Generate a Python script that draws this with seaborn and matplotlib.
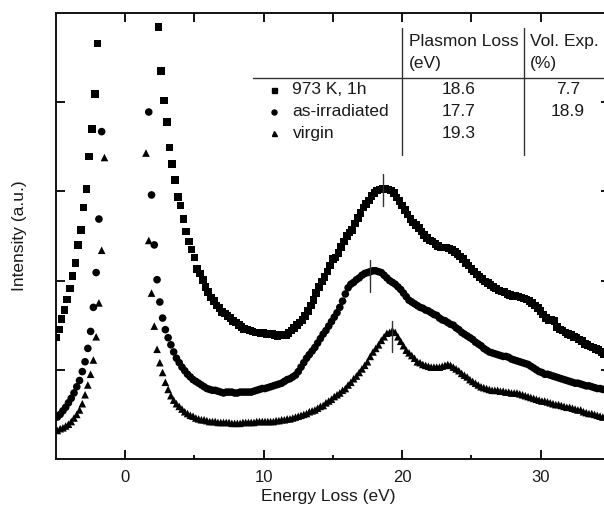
import numpy as np
import pandas as pd
import matplotlib
matplotlib.use("Agg")
import matplotlib.pyplot as plt
from matplotlib.lines import Line2D
import seaborn as sns

nan = np.nan

# ---------------- data ----------------
# energy grid of each spectrum: first channel and channel width (eV)
start_973K, start_irr, start_virgin = -5.0, -4.9, -4.9
channel_width = 0.2

# 973 K, 1h  (squares)   -- one row = 1 eV (5 channels), first value at -5.0 eV
int_973K = [
    1.36, 1.45, 1.57, 1.67, 1.79,
    1.91, 2.05, 2.20, 2.40, 2.57,
    2.82, 3.03, 3.39, 3.70, 4.09,
    4.66, nan, nan, nan, nan,
    nan, nan, nan, nan, nan,
    nan, nan, nan, nan, nan,
    nan, nan, nan, nan, nan,
    nan, nan, 4.84, 4.35, 4.02,
    3.78, 3.49, 3.31, 3.13, 2.94,
    2.84, 2.69, 2.55, 2.44, 2.35,
    2.26, 2.13, 2.08, 2.01, 1.93,
    1.87, 1.81, 1.77, 1.72, 1.69,
    1.65, 1.63, 1.60, 1.58, 1.55,
    1.53, 1.50, 1.48, 1.46, 1.45,
    1.44, 1.43, 1.42, 1.42, 1.41,
    1.41, 1.40, 1.40, 1.40, 1.39,
    1.38, 1.39, 1.39, 1.39, 1.41,
    1.44, 1.47, 1.50, 1.53, 1.56,
    1.60, 1.66, 1.72, 1.78, 1.86,
    1.93, 1.99, 2.04, 2.10, 2.17,
    2.24, 2.26, 2.31, 2.38, 2.44,
    2.50, 2.54, 2.57, 2.64, 2.70,
    2.76, 2.82, 2.86, 2.90, 2.95,
    2.98, 3.01, 3.02, 3.03, 3.03,
    3.02, 3.01, 2.98, 2.93, 2.89,
    2.84, 2.79, 2.74, 2.69, 2.65,
    2.62, 2.59, 2.55, 2.51, 2.48,
    2.45, 2.44, 2.41, 2.39, 2.37,
    2.37, 2.37, 2.36, 2.34, 2.32,
    2.30, 2.27, 2.24, 2.20, 2.17,
    2.13, 2.10, 2.07, 2.04, 2.02,
    1.99, 1.97, 1.95, 1.93, 1.91,
    1.89, 1.88, 1.87, 1.85, 1.84,
    1.83, 1.83, 1.82, 1.81, 1.80,
    1.79, 1.77, 1.75, 1.72, 1.69,
    1.66, 1.62, 1.58, 1.56, 1.56,
    1.55, 1.48, 1.45, 1.44, 1.42,
    1.40, 1.39, 1.37, 1.36, 1.34,
    1.32, 1.29, 1.28, 1.26, 1.25,
    1.23, 1.22, 1.20, 1.18,
]

# as-irradiated (circles)  -- first value at -4.9 eV
int_irr = [
    0.47, 0.50, 0.54, 0.58, 0.63,
    0.68, 0.74, 0.81, 0.88, 0.98,
    1.09, 1.24, 1.43, 1.70, 2.09,
    2.69, 3.67, nan, nan, nan,
    nan, nan, nan, nan, nan,
    nan, nan, nan, nan, nan,
    nan, nan, nan, 3.89, 2.96,
    2.40, 2.01, 1.76, 1.58, 1.45,
    1.36, 1.28, 1.20, 1.13, 1.08,
    1.03, 0.99, 0.95, 0.92, 0.89,
    0.87, 0.85, 0.83, 0.81, 0.79,
    0.78, 0.77, 0.77, 0.76, 0.75,
    0.74, 0.75, 0.75, 0.75, 0.74,
    0.74, 0.75, 0.75, 0.75, 0.75,
    0.75, 0.76, 0.77, 0.78, 0.79,
    0.79, 0.80, 0.81, 0.82, 0.83,
    0.84, 0.85, 0.87, 0.89, 0.90,
    0.92, 0.94, 0.98, 1.03, 1.08,
    1.13, 1.17, 1.21, 1.25, 1.30,
    1.35, 1.40, 1.44, 1.49, 1.54,
    1.59, 1.64, 1.70, 1.77, 1.85,
    1.92, 1.96, 1.98, 2.01, 2.03,
    2.06, 2.08, 2.09, 2.10, 2.11,
    2.11, 2.10, 2.09, 2.06, 2.03,
    2.00, 1.98, 1.96, 1.93, 1.90,
    1.86, 1.82, 1.78, 1.76, 1.74,
    1.72, 1.70, 1.69, 1.67, 1.66,
    1.64, 1.62, 1.61, 1.58, 1.56,
    1.55, 1.53, 1.51, 1.50, 1.47,
    1.45, 1.42, 1.40, 1.38, 1.36,
    1.34, 1.31, 1.29, 1.27, 1.24,
    1.22, 1.20, 1.19, 1.18, 1.17,
    1.16, 1.15, 1.15, 1.14, 1.12,
    1.11, 1.10, 1.09, 1.08, 1.07,
    1.06, 1.04, 1.02, 1.00, 0.98,
    0.97, 0.95, 0.95, 0.94, 0.93,
    0.92, 0.91, 0.90, 0.89, 0.88,
    0.87, 0.86, 0.85, 0.85, 0.84,
    0.83, 0.82, 0.82, 0.81, 0.80,
    0.79, 0.79, 0.78,
]

# virgin (triangles)  -- first value at -4.9 eV
int_virgin = [
    0.32, 0.34, 0.35, 0.37, 0.39,
    0.42, 0.46, 0.50, 0.55, 0.62,
    0.72, 0.83, 0.95, 1.11, 1.37,
    1.75, 2.34, 3.38, nan, nan,
    nan, nan, nan, nan, nan,
    nan, nan, nan, nan, nan,
    nan, nan, 3.43, 2.45, 1.86,
    1.49, 1.23, 1.08, 0.97, 0.86,
    0.78, 0.71, 0.66, 0.62, 0.59,
    0.56, 0.53, 0.51, 0.49, 0.48,
    0.46, 0.45, 0.44, 0.44, 0.43,
    0.42, 0.42, 0.42, 0.41, 0.41,
    0.41, 0.41, 0.41, 0.40, 0.40,
    0.40, 0.40, 0.41, 0.41, 0.41,
    0.41, 0.41, 0.42, 0.42, 0.42,
    0.42, 0.42, 0.42, 0.42, 0.43,
    0.43, 0.44, 0.44, 0.45, 0.45,
    0.46, 0.47, 0.48, 0.49, 0.50,
    0.51, 0.53, 0.54, 0.55, 0.57,
    0.59, 0.60, 0.63, 0.65, 0.67,
    0.70, 0.72, 0.74, 0.77, 0.79,
    0.83, 0.86, 0.90, 0.93, 0.97,
    1.01, 1.05, 1.09, 1.15, 1.20,
    1.24, 1.28, 1.33, 1.37, 1.41,
    1.42, 1.44, 1.42, 1.37, 1.32,
    1.27, 1.22, 1.19, 1.16, 1.13,
    1.09, 1.08, 1.06, 1.05, 1.04,
    1.03, 1.03, 1.03, 1.03, 1.04,
    1.05, 1.06, 1.05, 1.03, 1.01,
    0.99, 0.96, 0.94, 0.92, 0.89,
    0.87, 0.85, 0.83, 0.81, 0.80,
    0.79, 0.78, 0.77, 0.77, 0.77,
    0.76, 0.76, 0.75, 0.75, 0.74,
    0.74, 0.74, 0.73, 0.72, 0.71,
    0.70, 0.69, 0.68, 0.67, 0.66,
    0.65, 0.65, 0.64, 0.63, 0.62,
    0.61, 0.61, 0.60, 0.59, 0.58,
    0.58, 0.57, 0.56, 0.55, 0.55,
    0.53, 0.52, 0.51, 0.51, 0.50,
    0.49, 0.48, 0.47,
]

sample_labels = ["973 K, 1h", "as-irradiated", "virgin"]
plasmon_loss = [18.6, 17.7, 19.3]          # eV, also where peak bars are drawn
plasmon_text = ["18.6", "17.7", "19.3"]
vol_exp_text = ["7.7", "18.9", ""]
peak_bar_low = [2.84, 1.87, 1.20]
peak_bar_high = [3.20, 2.23, 1.55]

x_ticks = [0, 10, 20, 30]
x_tick_labels = ["0", "10", "20", "30"]
x_minor = [5, 15, 25]
top_ticks = [0, 5, 10, 15, 20, 25, 30]
y_ticks = [1, 2, 3, 4]

# ---------------- build table ----------------
frames = []
for lab, start, vals in zip(sample_labels,
                            [start_973K, start_irr, start_virgin],
                            [int_973K, int_irr, int_virgin]):
    e = np.round(start + channel_width * np.arange(len(vals)), 2)
    frames.append(pd.DataFrame({"energy": e, "intensity": vals, "sample": lab}))
df = pd.concat(frames, ignore_index=True).dropna()

# ---------------- figure ----------------
sns.set_style("ticks")
plt.rcParams["font.family"] = ["Liberation Sans", "DejaVu Sans"]
FS = 12.5
TXT = "#1a1a1a"
AX_C = "#111111"

W, H = 604, 521
fig = plt.figure(figsize=(W / 100, H / 100), dpi=100)
ax_left, ax_top, ax_bottom, ax_right = 56, 13, 459, 609.75
rect = [ax_left / W, (H - ax_bottom) / H,
        (ax_right - ax_left) / W, (ax_bottom - ax_top) / H]
ax = fig.add_axes(rect)

markers = {"973 K, 1h": "s", "as-irradiated": "o", "virgin": "^"}
sns.scatterplot(data=df, x="energy", y="intensity", style="sample",
                markers=markers, color="black", s=30, linewidth=0,
                legend=False, ax=ax, zorder=3)

# peak marker bars
for xp, lo, hi in zip(plasmon_loss, peak_bar_low, peak_bar_high):
    ax.plot([xp, xp], [lo, hi], color="#333333", lw=1.0, zorder=4)

ax.set_xlim(-5, 35)
ax.set_ylim(0, 5)
ax.set_xticks(x_ticks)
ax.set_xticklabels(x_tick_labels)
ax.set_xticks(x_minor, minor=True)
ax.set_yticks(y_ticks)
ax.set_yticklabels([])
ax.xaxis.set_ticks_position("bottom")
ax.yaxis.set_ticks_position("both")
ax.tick_params(axis="x", which="major", bottom=True, top=False, direction="in",
               length=6.5, width=1.4, color=AX_C, labelsize=12, pad=8,
               labelcolor=TXT)
ax.tick_params(axis="x", which="minor", bottom=True, top=False, direction="in",
               length=3.2, width=1.4, color=AX_C)
ax.tick_params(axis="y", which="major", left=True, right=True, direction="in",
               length=6.5, width=1.4, color=AX_C)
for sp in ax.spines.values():
    sp.set_linewidth(1.4)
    sp.set_color(AX_C)
    sp.set_visible(True)

# top ticks (all the same length)
ax_top_ticks = ax.twiny()
ax_top_ticks.set_xlim(ax.get_xlim())
ax_top_ticks.set_xticks(top_ticks)
ax_top_ticks.set_xticklabels([])
ax_top_ticks.tick_params(axis="x", top=True, bottom=False, direction="in",
                         length=6.5, width=1.4, color=AX_C)
for sp in ax_top_ticks.spines.values():
    sp.set_visible(False)

ax.set_xlabel("Energy Loss (eV)", fontsize=FS, color=TXT)
ax.set_ylabel("Intensity (a.u.)", fontsize=FS, color=TXT)
ax.xaxis.set_label_coords((328 - ax_left) / (ax_right - ax_left),
                          (ax_bottom - 489) / (ax_bottom - ax_top))
ax.yaxis.set_label_coords((27 - ax_left) / (ax_right - ax_left), 0.5)

# ---------------- inset table ----------------
def fx(px):
    return px / W

def fy(py):
    return 1 - py / H

line_kw = dict(color="#333333", lw=1.0, transform=fig.transFigure)
fig.add_artist(Line2D([fx(253), fx(604)], [fy(78.3), fy(78.3)], **line_kw))
fig.add_artist(Line2D([fx(402.3), fx(402.3)], [fy(28), fy(155)], **line_kw))
fig.add_artist(Line2D([fx(524), fx(524)], [fy(28), fy(155)], **line_kw))

fig.text(fx(409), fy(41.7), "Plasmon Loss", fontsize=FS, color=TXT, va="center", ha="left")
fig.text(fx(409), fy(63.3), "(eV)", fontsize=FS, color=TXT, va="center", ha="left")
fig.text(fx(530), fy(41.7), "Vol. Exp.", fontsize=FS, color=TXT, va="center", ha="left")
fig.text(fx(530), fy(63.3), "(%)", fontsize=FS, color=TXT, va="center", ha="left")

row_y = [90, 111.7, 133.3]
for lab, ry, pt, vt in zip(sample_labels, row_y, plasmon_text, vol_exp_text):
    fig.add_artist(Line2D([fx(273.5)], [fy(ry)], marker=markers[lab],
                          color="black", markersize=3.6, linestyle="none",
                          transform=fig.transFigure))
    fig.text(fx(292.5), fy(ry), lab, fontsize=FS, color=TXT, va="center", ha="left")
    fig.text(fx(459), fy(ry), pt, fontsize=FS, color=TXT, va="center", ha="center")
    if vt:
        fig.text(fx(568), fy(ry), vt, fontsize=FS, color=TXT, va="center", ha="center")

fig.savefig("out.png", dpi=100)
